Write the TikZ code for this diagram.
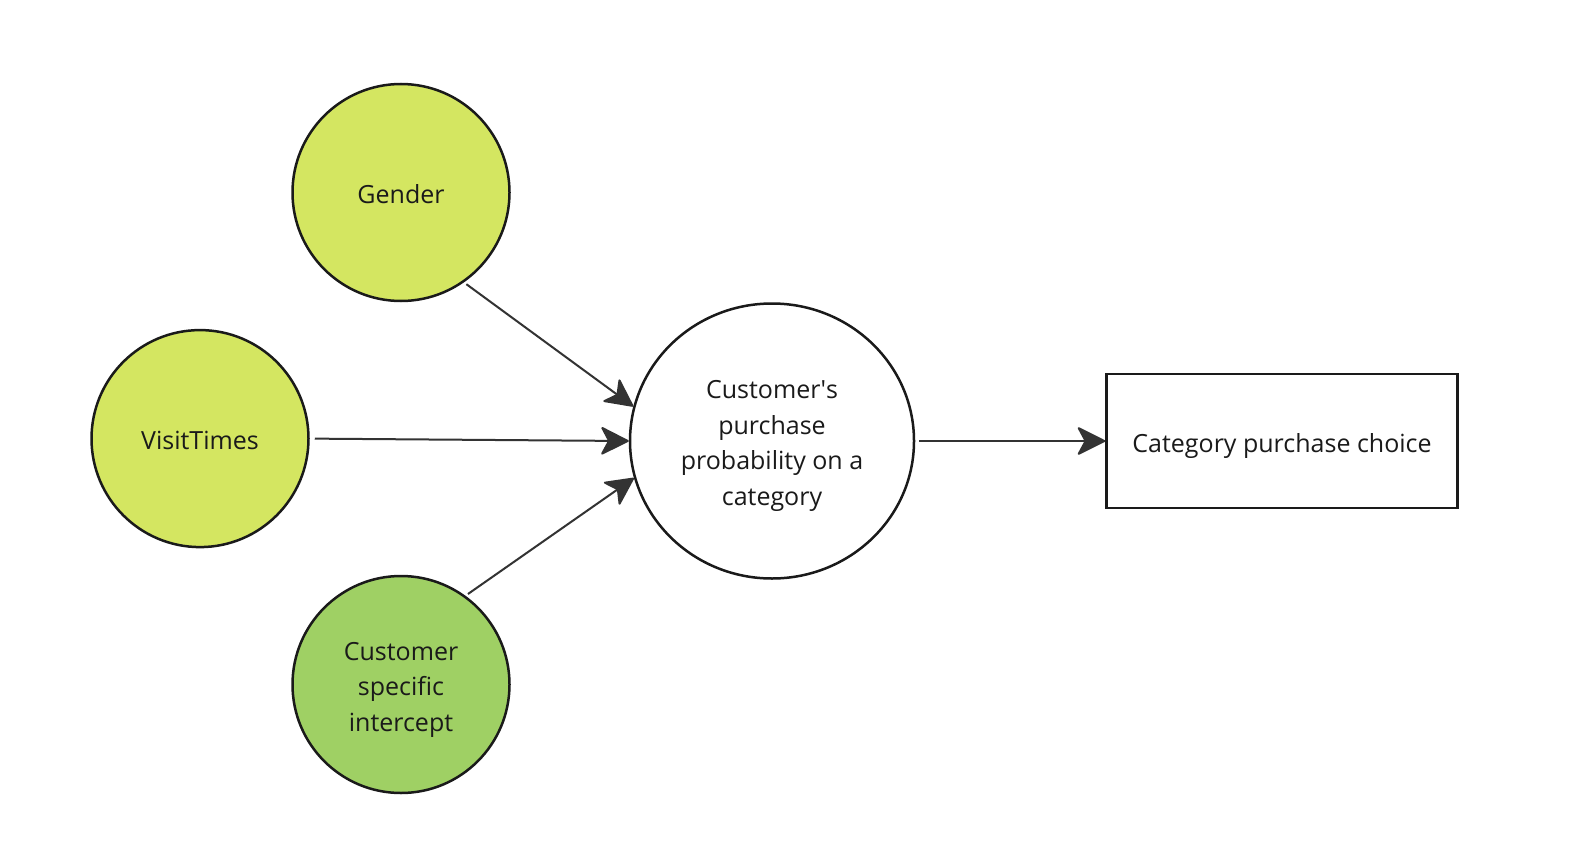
\documentclass[tikz,border=0pt]{standalone}
\usepackage{fontspec}
\setmainfont{Open Sans}
\usetikzlibrary{arrows.meta,shapes.geometric}
\definecolor{lime}{HTML}{D4E661}
\definecolor{leaf}{HTML}{9FD064}
\definecolor{ink}{HTML}{1A1A1A}
\definecolor{arr}{HTML}{333333}
\newcommand\lbltext[1]{\raisebox{0pt}[\height][\dimexpr\depth-8pt\relax]{\begin{tabular}{@{}c@{}}#1\end{tabular}}}
\tikzset{
  lbl/.style={font=\fontsize{25}{35.5}\selectfont, text=ink},
  varcirc/.style={lbl, circle, draw=ink, line width=2.5pt, minimum size=217pt, inner sep=0pt},
  link/.style={draw=arr, line width=2pt, -{Stealth[length=30pt,width=30pt,inset=8pt,round]}},
}
\begin{document}
\begin{tikzpicture}[x=1pt,y=-1pt]
\useasboundingbox[fill=white] (0,0) rectangle (1592,848);
\node[varcirc, fill=lime] (gender) at (401,192.5) {\lbltext{Gender}};
\node[varcirc, fill=lime] (visit) at (200,438.6) {\lbltext{VisitTimes}};
\node[varcirc, fill=leaf] (icpt) at (401,684.5) {\lbltext{Customer\\specific\\intercept}};
\node[lbl, ellipse, draw=ink, line width=2.5pt, minimum width=284pt, minimum height=275pt, inner sep=0pt, fill=white] (prob) at (772,441) {\lbltext{Customer\textquotesingle s\\purchase\\probability on a\\category}};
\node[lbl, rectangle, draw=ink, line width=2.5pt, minimum width=351pt, minimum height=134pt, inner sep=0pt] (choice) at (1282,441) {\lbltext{Category purchase choice}};
\draw[link, shorten <=3pt] (gender.-55.5) -- (prob.166);
\draw[link, shorten <=5pt] (visit.east) -- (prob.west);
\draw[link, shorten <=3pt] (icpt.54) -- (prob.195);
\draw[link, shorten <=4pt] (prob.east) -- (choice.west);
\end{tikzpicture}
\end{document}
